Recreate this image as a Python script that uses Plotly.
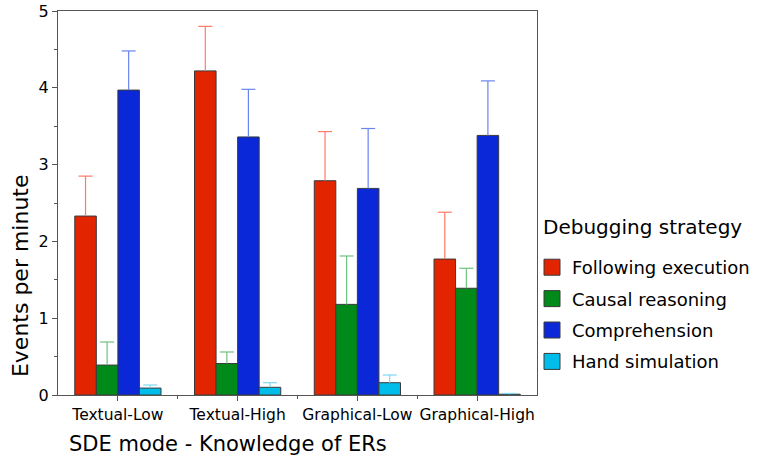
import plotly.graph_objects as go

categories = ["Textual-Low", "Textual-High", "Graphical-Low", "Graphical-High"]
series_names = ["Following execution", "Causal reasoning", "Comprehension", "Hand simulation"]
following = [2.33, 4.22, 2.79, 1.77]
following_err = [0.52, 0.58, 0.64, 0.61]
causal = [0.39, 0.41, 1.18, 1.39]
causal_err = [0.30, 0.15, 0.63, 0.26]
comprehension = [3.97, 3.36, 2.69, 3.38]
comprehension_err = [0.51, 0.62, 0.78, 0.71]
hand = [0.09, 0.10, 0.16, 0.01]
hand_err = [0.04, 0.06, 0.10, 0.01]

values = [following, causal, comprehension, hand]
errors = [following_err, causal_err, comprehension_err, hand_err]
bar_colors = ["#E32400", "#008A1A", "#0A28D8", "#00BDEA"]
err_colors = ["#FF7A66", "#6FC27F", "#6A84F2", "#7FD8F2"]

FONT = "DejaVu Sans"
BARGAP = 0.28
n_series = len(series_names)
bar_w = (1 - BARGAP) / n_series
xpos = list(range(len(categories)))

fig = go.Figure()
for i, name in enumerate(series_names):
    fig.add_trace(go.Bar(
        x=xpos, y=values[i], name=name, showlegend=False,
        marker=dict(color=bar_colors[i], line=dict(color="#3a3a3a", width=1)),
        error_y=dict(type="data", array=errors[i], arrayminus=[0] * len(xpos), symmetric=False,
                     color=err_colors[i], thickness=1.2, width=0),
    ))

# error-bar caps (top only)
for i, name in enumerate(series_names):
    off = (i - (n_series - 1) / 2) * bar_w
    fig.add_trace(go.Scatter(
        x=[p + off for p in xpos],
        y=[v + e for v, e in zip(values[i], errors[i])],
        mode="markers", showlegend=False, hoverinfo="skip",
        marker=dict(symbol="line-ew", size=10, line=dict(color=err_colors[i], width=1.2)),
    ))

# legend entries
for i, name in enumerate(series_names):
    fig.add_trace(go.Scatter(
        x=[None], y=[None], name=name, mode="markers", legendgroup=name,
        marker=dict(symbol="square", size=16, color=bar_colors[i],
                    line=dict(color="#3a3a3a", width=1)),
    ))

fig.update_layout(
    width=760, height=462,
    margin=dict(l=58, r=223, t=11, b=67, autoexpand=False),
    paper_bgcolor="white", plot_bgcolor="white",
    barmode="group", bargap=BARGAP, bargroupgap=0,
    font=dict(family=FONT, color="black"),
    showlegend=True,
    legend=dict(
        font=dict(size=18, family=FONT),
        xref="container", yref="container",
        x=0.7, xanchor="left", y=0.461, yanchor="top",
        tracegroupgap=5, bgcolor="rgba(0,0,0,0)", itemsizing="trace",
    ),
    xaxis=dict(
        range=[-0.5, len(categories) - 0.5],
        tickvals=xpos, ticktext=categories, tickangle=0, automargin=False,
        showline=True, linecolor="#555555", linewidth=1, mirror=True,
        ticks="outside", ticklen=5, tickcolor="#555555",
        tickfont=dict(size=15.5), showgrid=False, zeroline=False,
        minor=dict(tickvals=[p + 0.5 for p in xpos[:-1]], ticks="outside", ticklen=3,
                   tickcolor="#555555", showgrid=False),
    ),
    yaxis=dict(
        range=[0, 5], dtick=1, automargin=False,
        showline=True, linecolor="#555555", linewidth=1, mirror=True,
        ticks="outside", ticklen=5, tickcolor="#555555",
        tickfont=dict(size=16), showgrid=False, zeroline=False,
        minor=dict(dtick=0.5, ticks="outside", ticklen=3, tickcolor="#555555", showgrid=False),
    ),
    annotations=[
        dict(text="Debugging strategy", xref="paper", yref="paper", x=1.008, y=0.4375,
             xanchor="left", yanchor="middle", showarrow=False, font=dict(size=20)),
        dict(text="SDE mode - Knowledge of ERs", xref="paper", yref="paper", x=0.0188, y=-0.128,
             xanchor="left", yanchor="middle", showarrow=False, font=dict(size=21)),
        dict(text="Events per minute", xref="paper", yref="paper", x=-0.077, y=0.31,
             xanchor="center", yanchor="middle", textangle=-90, showarrow=False,
             font=dict(size=22)),
    ],
)

fig.write_html("out.html")
